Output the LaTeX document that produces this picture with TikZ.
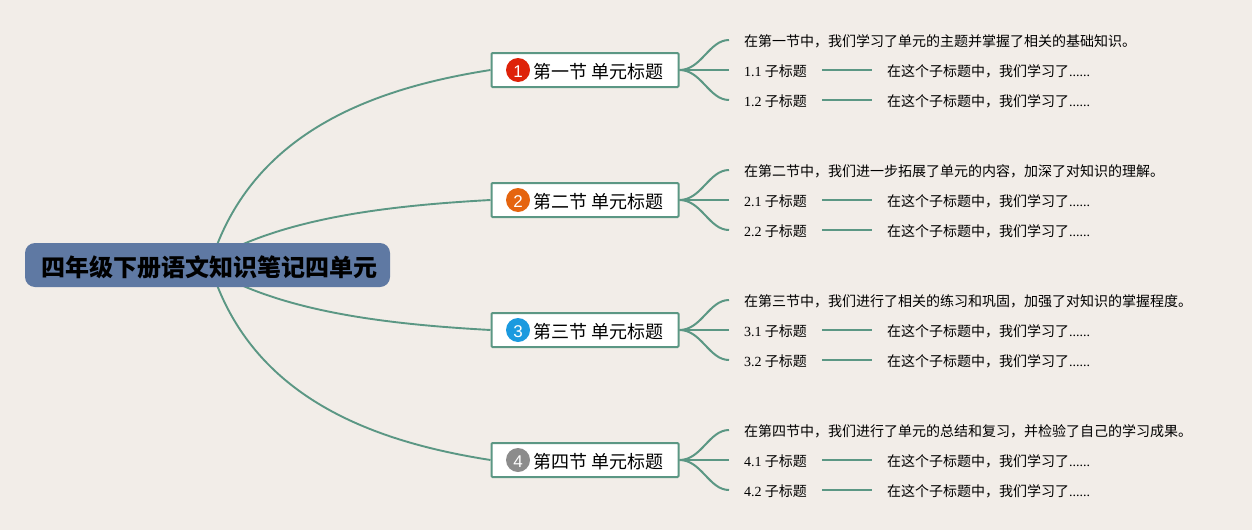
\documentclass[tikz,border=0pt]{standalone}
\usepackage{fontspec}
\setmainfont{Liberation Serif}
\setsansfont{Liberation Sans}
\newfontfamily\cjk{Noto Sans CJK SC}
\definecolor{bgc}{HTML}{F2EDE8}
\definecolor{linec}{HTML}{5B9784}
\definecolor{rootc}{HTML}{5F79A3}
\definecolor{bred}{HTML}{DE2209}
\definecolor{borange}{HTML}{E5640F}
\definecolor{bblue}{HTML}{1B9ADF}
\definecolor{bgray}{HTML}{8C8C8C}
\tikzset{
  x=1pt,y=-1pt,
  rootbox/.style={rounded corners=10pt,fill=rootc,minimum width=365pt,minimum height=44pt,inner sep=0pt,text height=23pt,text depth=1pt,font=\fontsize{24}{24}\selectfont\cjk\bfseries,text=black},
  secbox/.style={draw=linec,line width=2pt,fill=white,rounded corners=1pt,minimum width=187pt,minimum height=34pt,inner sep=0pt},
  sectext/.style={inner sep=0pt,anchor=west,text height=19pt,text depth=2pt,font=\fontsize{18}{18}\selectfont\cjk,text=black},
  badge/.style={circle,minimum size=24pt,inner sep=0pt,text height=14.2pt,text depth=0pt,text=white,font=\fontsize{17}{17}\selectfont\sffamily},
  leaf/.style={anchor=west,inner ysep=0pt,inner xsep=15pt,text height=14pt,text depth=1.4pt,font=\fontsize{14}{14}\selectfont\cjk,text=black},
  conn/.style={draw=linec,line width=2pt},
  mainconn/.style={draw=linec,line width=1.9pt},
}
\newcommand{\mysection}[6]{%
  % #1 id, #2 y centre, #3 badge colour, #4 number, #5 title, #6 intro
  \node[badge,fill=#3] (bad#1) at (518,#2) {#4};
  \node[sectext] (tit#1) at (533,#2) {#5};
  \node[leaf] (intro#1) at (729,#2-30) {#6};
  \node[leaf] (suba#1) at (729,#2) {{\rmfamily #4.1} 子标题};
  \node[leaf] (subb#1) at (729,#2+30) {{\rmfamily #4.2} 子标题};
  \node[leaf] (vala#1) at (872,#2) {在这个子标题中，我们学习了{\rmfamily ......}};
  \node[leaf] (valb#1) at (872,#2+30) {在这个子标题中，我们学习了{\rmfamily ......}};
  \draw[conn] (sec#1.east) .. controls +(22,0) and +(-20,0) .. (intro#1.west);
  \draw[conn] (sec#1.east) -- (suba#1.west);
  \draw[conn] (sec#1.east) .. controls +(22,0) and +(-20,0) .. (subb#1.west);
  \draw[conn] (suba#1.east) -- (vala#1.west);
  \draw[conn] (subb#1.east) -- (valb#1.west);
}
\begin{document}
\begin{tikzpicture}
\useasboundingbox (0,0) rectangle (1252,530);
\fill[bgc] (0,0) rectangle (1252,530);
\coordinate (ra) at (217,245);
\coordinate (rb) at (241,245);
\coordinate (rc) at (241,285);
\coordinate (rd) at (217,285);
\node[secbox] (secA) at (585,70) {};
\node[secbox] (secB) at (585,200) {};
\node[secbox] (secC) at (585,330) {};
\node[secbox] (secD) at (585,460) {};
\draw[mainconn] (ra) .. controls (262,130) and (375,88) .. (secA.west);
\draw[mainconn] (rb) .. controls (310,215) and (400,205) .. (secB.west);
\draw[mainconn] (rc) .. controls (310,315) and (400,325) .. (secC.west);
\draw[mainconn] (rd) .. controls (262,400) and (375,442) .. (secD.west);
\node[rootbox] (root) at (207.5,265) {\hspace*{3pt}四年级下册语文知识笔记四单元};
\mysection{A}{70}{bred}{1}{第一节 单元标题}{在第一节中，我们学习了单元的主题并掌握了相关的基础知识。}
\mysection{B}{200}{borange}{2}{第二节 单元标题}{在第二节中，我们进一步拓展了单元的内容，加深了对知识的理解。}
\mysection{C}{330}{bblue}{3}{第三节 单元标题}{在第三节中，我们进行了相关的练习和巩固，加强了对知识的掌握程度。}
\mysection{D}{460}{bgray}{4}{第四节 单元标题}{在第四节中，我们进行了单元的总结和复习，并检验了自己的学习成果。}
\end{tikzpicture}
\end{document}
